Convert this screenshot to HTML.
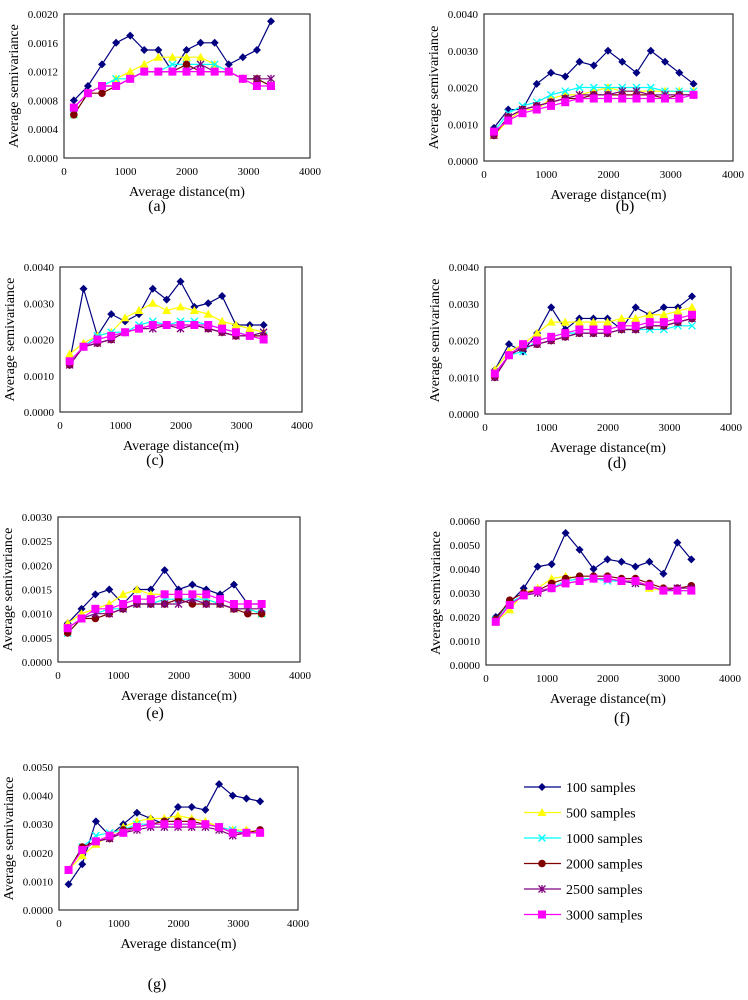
<!DOCTYPE html>
<html><head><meta charset="utf-8"><style>
html,body{margin:0;padding:0;background:#fff;}
svg{display:block;font-family:"Liberation Serif",serif;}
</style></head><body>
<svg id="fig" width="748" height="1000" viewBox="0 0 748 1000" xmlns="http://www.w3.org/2000/svg"></svg>
<script>
// x categories (average distance, m)
const distances = [160,389,618,847,1076,1305,1534,1763,1992,2221,2450,2679,2908,3137,3366];
const seriesNames = ["100 samples","500 samples","1000 samples","2000 samples","2500 samples","3000 samples"];
const unit = 0.0001; // values below are in units of 1e-4
// panel (a)
const a100=[8,10,13,16,17,15,15,12,15,16,16,13,14,15,19];
const a500=[6,9,10,11,12,13,14,14,14,14,13,12,11,11,10];
const a1000=[6,9,10,11,11,12,12,13,13,13,13,12,11,11,10];
const a2000=[6,9,9,10,11,12,12,12,13,12,12,12,11,11,10];
const a2500=[7,9,10,10,11,12,12,12,12,13,12,12,11,11,11];
const a3000=[7,9,10,10,11,12,12,12,12,12,12,12,11,10,10];
// panel (b)
const b100=[9,14,14,21,24,23,27,26,30,27,24,30,27,24,21];
const b500=[7,11,14,14,17,18,18,19,20,19,19,19,19,19,19];
const b1000=[8,13,15,16,18,19,20,20,20,20,20,20,19,19,19];
const b2000=[7,12,14,15,16,17,17,18,18,18,18,18,17,18,18];
const b2500=[7,12,14,15,16,17,18,18,18,19,19,18,18,18,18];
const b3000=[8,11,13,14,15,16,17,17,17,17,17,17,17,17,18];
// panel (c)
const c100=[14,34,21,27,25,27,34,31,36,29,30,32,24,24,24];
const c500=[16,19,21,22,26,28,30,28,29,28,27,25,24,23,22];
const c1000=[14,18,21,22,22,24,25,24,25,25,24,23,22,21,21];
const c2000=[13,18,19,20,22,23,24,24,24,24,23,22,21,21,21];
const c2500=[13,18,19,20,22,23,23,24,23,24,23,22,21,21,22];
const c3000=[14,18,20,21,22,23,24,24,24,24,24,23,22,21,20];
// panel (d)
const d100=[12,19,17,22,29,23,26,26,26,23,29,27,29,29,32];
const d500=[12,17,19,22,25,25,25,25,25,26,26,27,27,28,29];
const d1000=[11,16,17,20,21,22,22,22,22,23,23,23,23,24,24];
const d2000=[10,16,18,19,20,21,22,22,22,23,23,24,24,25,26];
const d2500=[10,16,18,19,20,21,22,22,22,23,23,24,24,25,26];
const d3000=[11,16,19,20,21,22,23,23,23,24,24,25,25,26,27];
// panel (e)
const e100=[8,11,14,15,12,15,15,19,15,16,15,14,16,12,12];
const e500=[8,10,11,12,14,15,14,14,14,14,13,12,11,11,10];
const e1000=[6,9,10,11,11,12,12,13,13,13,13,12,11,11,10];
const e2000=[6,9,9,10,11,12,12,12,13,12,12,12,11,10,10];
const e2500=[7,9,10,10,11,12,12,12,12,13,12,12,11,11,11];
const e3000=[7,9,11,11,12,13,13,14,14,14,14,13,12,12,12];
// panel (f)
const f100=[20,26,32,41,42,55,48,40,44,43,41,43,38,51,44];
const f500=[18,23,30,32,36,37,36,36,36,35,35,32,31,31,31];
const f1000=[19,26,29,31,32,35,36,36,35,35,34,33,31,31,31];
const f2000=[19,27,30,31,34,36,37,37,37,36,36,34,32,32,33];
const f2500=[18,25,29,30,32,34,35,36,36,35,34,33,31,32,32];
const f3000=[18,25,29,31,32,34,35,36,36,35,35,33,31,31,31];
// panel (g)
const g100=[9,16,31,26,30,34,32,30,36,36,35,44,40,39,38];
const g500=[14,19,23,26,29,31,32,32,33,32,31,29,28,28,27];
const g1000=[14,22,26,27,28,30,30,30,30,30,30,29,28,27,27];
const g2000=[14,22,24,25,28,29,30,31,31,31,30,29,27,27,28];
const g2500=[14,21,24,25,27,28,29,29,29,29,29,28,26,27,27];
const g3000=[14,21,24,26,27,29,30,30,30,30,30,29,27,27,27];
// y-axis tick labels per panel
const ticksA=["0.0000","0.0004","0.0008","0.0012","0.0016","0.0020"];
const ticksB=["0.0000","0.0010","0.0020","0.0030","0.0040"];
const ticksE=["0.0000","0.0005","0.0010","0.0015","0.0020","0.0025","0.0030"];
const ticksF=["0.0000","0.0010","0.0020","0.0030","0.0040","0.0050","0.0060"];
const ticksG=["0.0000","0.0010","0.0020","0.0030","0.0040","0.0050"];
const xTicks=[0,1000,2000,3000,4000];

const NS="http://www.w3.org/2000/svg";
const svg=document.getElementById('fig');
const colors=["#000080","#ffff00","#00ffff","#800000","#800080","#ff00ff"];
function mk(tag,attrs,parent){const e=document.createElementNS(NS,tag);for(const k in attrs)e.setAttribute(k,attrs[k]);(parent||svg).appendChild(e);return e;}
function marker(g,type,x,y,c){
  let m;
  if(type===0){m=mk('polygon',{points:`${x},${y-4} ${x+4},${y} ${x},${y+4} ${x-4},${y}`,fill:c},g);}
  else if(type===1){m=mk('polygon',{points:`${x},${y-4.5} ${x+4.5},${y+3.5} ${x-4.5},${y+3.5}`,fill:c},g);}
  else if(type===2){m=mk('path',{d:`M${x-3.5},${y-3.5}L${x+3.5},${y+3.5}M${x-3.5},${y+3.5}L${x+3.5},${y-3.5}`,stroke:c,'stroke-width':1.3},g);}
  else if(type===3){m=mk('circle',{cx:x,cy:y,r:3.8,fill:c},g);}
  else if(type===4){m=mk('path',{d:`M${x-3.5},${y-3.5}L${x+3.5},${y+3.5}M${x-3.5},${y+3.5}L${x+3.5},${y-3.5}M${x},${y-4}L${x},${y+4}`,stroke:c,'stroke-width':1.3},g);}
  else {m=mk('rect',{x:x-4,y:y-4,width:8,height:8,fill:c},g);}
  return m;
}
function panel(id,box,ymax,ticks,data,label,labelPos){
  const [x0,y0,x1,y1]=box;
  const g=mk('g',{});
  
  
  const sx=v=>x0+(v/4000)*(x1-x0);
  const sy=v=>y1-(v/ymax)*(y1-y0);
  const frame=mk('rect',{x:x0,y:y0,width:x1-x0,height:y1-y0,fill:'none',stroke:'#333','stroke-width':1.2},g);
  
  
  ticks.forEach((t,i)=>{
    const v=parseFloat(t);
    const tx=mk('text',{x:x0-6,y:sy(v)+4,'font-size':11,'text-anchor':'end',fill:'#000'},g);
    tx.textContent=t;
    
    
  });
  xTicks.forEach(t=>{
    const tx=mk('text',{x:sx(t),y:y1+17,'font-size':11,'text-anchor':'middle',fill:'#000'},g);
    tx.textContent=t;
    
    
  });
  const xt=mk('text',{x:(x0+x1)/2,y:y1+38,'font-size':14,'text-anchor':'middle',fill:'#000'},g);
  xt.textContent='Average distance(m)';
  
  
  const yc=(y0+y1)/2, yx=x0-46;
  const yt=mk('text',{x:yx,y:yc,'font-size':14,'text-anchor':'middle',fill:'#000',transform:`rotate(-90 ${yx} ${yc})`},g);
  yt.textContent='Average semivariance';
  
  
  data.forEach((ser,si)=>{
    const sg=mk('g',{},g);
    
    
    const pts=ser.map((v,i)=>`${sx(distances[i])},${sy(v*unit)}`).join(' ');
    mk('polyline',{points:pts,fill:'none',stroke:colors[si],'stroke-width':1.2},sg);
    ser.forEach((v,i)=>{
      const m=marker(sg,si,sx(distances[i]),sy(v*unit),colors[si]);
      
      
    });
  });
  const lb=mk('text',{x:labelPos[0],y:labelPos[1],'font-size':16,'text-anchor':'middle',fill:'#000'},g);
  lb.textContent=label;
  
  
}
panel('a',[64,14,310,158],0.0020,ticksA,[a100,a500,a1000,a2000,a2500,a3000],'(a)',[157,211]);
panel('b',[484,14,733,161],0.0040,ticksB,[b100,b500,b1000,b2000,b2500,b3000],'(b)',[625,211]);
panel('c',[60,267,302,412],0.0040,ticksB,[c100,c500,c1000,c2000,c2500,c3000],'(c)',[155,465]);
panel('d',[485,267,731,414],0.0040,ticksB,[d100,d500,d1000,d2000,d2500,d3000],'(d)',[617,468]);
panel('e',[58,517,300,662],0.0030,ticksE,[e100,e500,e1000,e2000,e2500,e3000],'(e)',[155,718]);
panel('f',[486,521,730,665],0.0060,ticksF,[f100,f500,f1000,f2000,f2500,f3000],'(f)',[622,723]);
panel('g',[59,767,298,910],0.0050,ticksG,[g100,g500,g1000,g2000,g2500,g3000],'(g)',[157,989]);

// legend
const lg=mk('g',{});


seriesNames.forEach((n,i)=>{
  const y=787+i*25.5;
  const e=mk('g',{},lg);
  
  
  mk('line',{x1:524,y1:y,x2:561,y2:y,stroke:colors[i],'stroke-width':1.2},e);
  marker(e,i,542,y,colors[i]);
  const t=mk('text',{x:566,y:y+5,'font-size':14,fill:'#000'},e);
  t.textContent=n;
});
</script>
</body></html>
